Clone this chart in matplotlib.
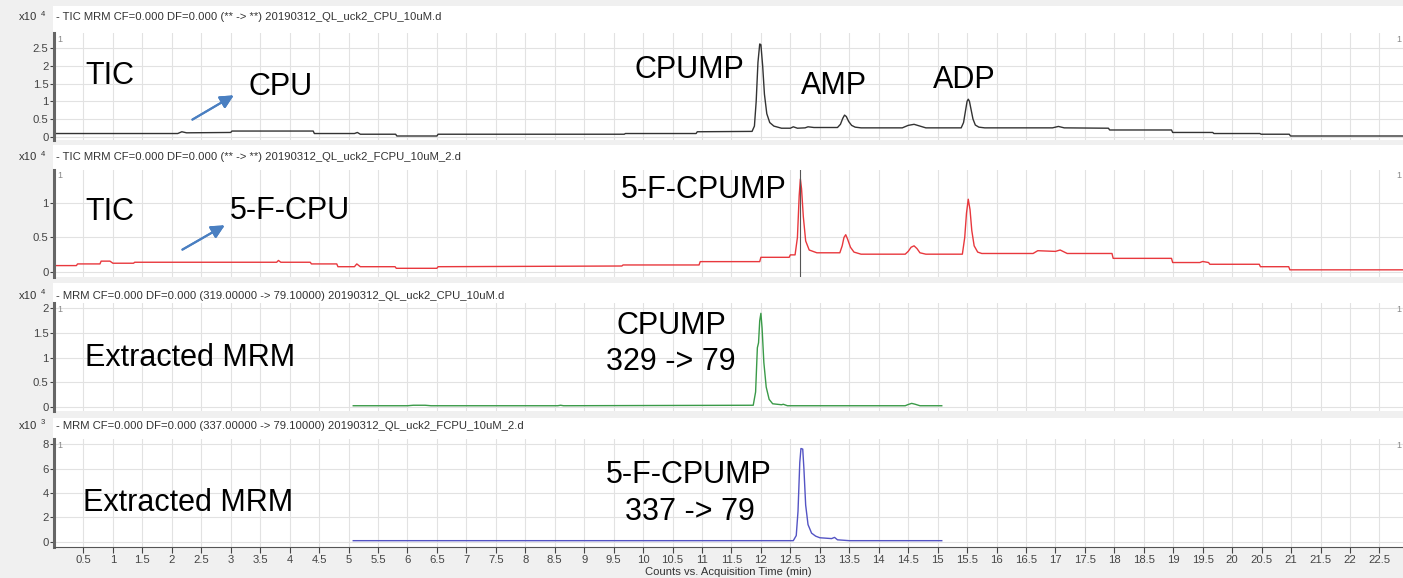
import numpy as np
import matplotlib
matplotlib.use('Agg')
import matplotlib.pyplot as plt
from matplotlib.patches import Rectangle

# ---- data ----
# TIC, CPU sample (x10^4 counts)
tic_cpu_t = [0.0, 2.1, 2.17, 2.25, 3.0, 3.02, 4.4, 4.42, 5.1, 5.15, 5.2, 5.8, 5.82, 6.5, 6.52,
             9.68, 9.7, 10.9, 10.92, 11.85, 11.89, 11.92, 11.95, 11.98, 12.0, 12.03, 12.06,
             12.1, 12.15, 12.22, 12.35,
             12.5, 12.55, 12.62, 12.75, 12.8, 12.9, 13.3, 13.35, 13.39, 13.42, 13.45, 13.49,
             13.54, 13.6, 13.7,
             14.4, 14.5, 14.6, 14.7, 14.8, 15.4, 15.44, 15.47, 15.5, 15.52, 15.54, 15.57,
             15.6, 15.64, 15.7, 15.8,
             16.95, 17.05, 17.15, 17.9, 17.92, 18.97, 18.99, 19.67, 19.69, 20.47, 20.49,
             20.97, 20.99, 22.9]
tic_cpu_y = [0.09, 0.09, 0.14, 0.11, 0.12, 0.16, 0.16, 0.09, 0.09, 0.12, 0.07, 0.07, 0.02, 0.02, 0.07,
             0.07, 0.09, 0.09, 0.14, 0.15, 0.3, 1.0, 2.1, 2.62, 2.6, 2.0, 1.2,
             0.65, 0.4, 0.3, 0.24,
             0.24, 0.28, 0.24, 0.25, 0.28, 0.26, 0.26, 0.35, 0.52, 0.61, 0.57, 0.43,
             0.32, 0.27, 0.25,
             0.25, 0.32, 0.35, 0.3, 0.25, 0.25, 0.4, 0.7, 1.0, 1.06, 1.0, 0.75,
             0.5, 0.33, 0.27, 0.25,
             0.25, 0.29, 0.25, 0.24, 0.19, 0.19, 0.12, 0.12, 0.09, 0.09, 0.07,
             0.07, 0.02, 0.02]

# TIC, 5-F-CPU sample (x10^4 counts)
tic_fcpu_t = [0.0, 0.38, 0.4, 0.78, 0.8, 0.95, 1.0, 1.35, 1.37, 3.78, 3.81, 3.85, 4.35, 4.37,
              4.8, 4.82, 5.1, 5.14, 5.2, 5.79, 5.81, 6.5, 6.52, 9.64, 9.66, 10.95, 10.97,
              11.98, 12.0, 12.48, 12.5, 12.58, 12.62, 12.65, 12.67, 12.69, 12.72, 12.76, 12.82, 12.95,
              13.34, 13.38, 13.41, 13.44, 13.47, 13.52, 13.58, 13.7,
              14.45, 14.5, 14.55, 14.6, 14.65, 14.7, 14.8,
              15.42, 15.46, 15.49, 15.52, 15.55, 15.58, 15.62, 15.68, 15.75,
              16.62, 16.7, 17.0, 17.08, 17.2, 17.96, 17.98,
              18.97, 18.99, 19.45, 19.5, 19.6, 19.62, 20.46, 20.48, 20.96, 20.98, 22.9]
tic_fcpu_y = [0.096, 0.096, 0.12, 0.12, 0.16, 0.16, 0.13, 0.13, 0.144, 0.144, 0.17, 0.144, 0.144, 0.12,
              0.12, 0.08, 0.08, 0.12, 0.08, 0.08, 0.057, 0.057, 0.08, 0.09, 0.105, 0.105, 0.153,
              0.153, 0.215, 0.215, 0.25, 0.25, 0.5, 1.1, 1.34, 1.2, 0.8, 0.45, 0.32, 0.28,
              0.28, 0.38, 0.5, 0.54, 0.48, 0.36, 0.29, 0.26,
              0.26, 0.3, 0.36, 0.38, 0.34, 0.28, 0.26,
              0.26, 0.5, 0.85, 1.05, 0.9, 0.6, 0.38, 0.29, 0.27,
              0.27, 0.31, 0.3, 0.32, 0.27, 0.27, 0.2,
              0.2, 0.14, 0.14, 0.155, 0.14, 0.115, 0.115, 0.08, 0.08, 0.035, 0.035]

# MRM 329 -> 79, CPU sample (x10^4 counts)
mrm_cpu_t = [5.08, 6.0, 6.1, 6.3, 6.4, 8.55, 8.6, 8.65, 11.87, 11.91, 11.94, 11.96, 11.98, 12.0,
             12.02, 12.05, 12.09, 12.14, 12.2, 12.35, 12.38, 12.45,
             14.45, 14.5, 14.56, 14.62, 14.7, 15.07]
mrm_cpu_y = [0.02, 0.02, 0.03, 0.03, 0.02, 0.02, 0.03, 0.02, 0.03, 0.3, 1.2, 1.3, 1.75, 1.9,
             1.6, 0.9, 0.4, 0.15, 0.06, 0.04, 0.05, 0.02,
             0.02, 0.045, 0.068, 0.05, 0.02, 0.02]

# MRM 337 -> 79, 5-F-CPU sample (x10^3 counts)
mrm_fcpu_t = [5.08, 12.55, 12.6, 12.63, 12.66, 12.68, 12.71, 12.73, 12.76, 12.8, 12.86, 12.93,
              13.0, 13.2, 13.25, 13.3, 13.5, 15.07]
mrm_fcpu_y = [0.08, 0.08, 0.5, 2.5, 6.5, 7.65, 7.6, 6.0, 3.0, 1.4, 0.7, 0.45,
              0.32, 0.25, 0.35, 0.15, 0.08, 0.08]

titles = ['- TIC MRM CF=0.000 DF=0.000 (** -> **) 20190312_QL_uck2_CPU_10uM.d',
          '- TIC MRM CF=0.000 DF=0.000 (** -> **) 20190312_QL_uck2_FCPU_10uM_2.d',
          '- MRM CF=0.000 DF=0.000 (319.00000 -> 79.10000) 20190312_QL_uck2_CPU_10uM.d',
          '- MRM CF=0.000 DF=0.000 (337.00000 -> 79.10000) 20190312_QL_uck2_FCPU_10uM_2.d']
exps = ['4', '4', '4', '3']
yticks = [[0, 0.5, 1, 1.5, 2, 2.5], [0, 0.5, 1], [0, 0.5, 1, 1.5, 2], [0, 2, 4, 6, 8]]
ylims = [(-0.093, 2.93), (-0.068, 1.47), (-0.087, 2.11), (-0.44, 8.43)]
xticks = np.arange(0.5, 23, 0.5)

# ---- layout in pixels ----
W, H = 1403, 578
fig = plt.figure(figsize=(W / 100, H / 100), dpi=100, facecolor='#f0f0f0')

def fx(px):
    return px / W

def fy(py):
    return 1 - py / H

# (white block top, axes top, axes bottom, title y)
rows = [(6, 33, 140, 17), (145, 170, 277, 157), (283, 303, 411, 296), (418, 439, 547, 426)]
x0, x1 = 54, 1403

traces = [(tic_cpu_t, tic_cpu_y, '#333333'),
          (tic_fcpu_t, tic_fcpu_y, '#e8383d'),
          (mrm_cpu_t, mrm_cpu_y, '#3a9a48'),
          (mrm_fcpu_t, mrm_fcpu_y, '#5454c4')]

sans = ['Liberation Sans', 'DejaVu Sans']
small = 8.1
axes = []
for i, (wtop, atop, abot, ty) in enumerate(rows):
    fig.patches.append(Rectangle((fx(53), fy(abot)), fx(W - 53), fy(wtop) - fy(abot),
                                 transform=fig.transFigure, facecolor='white',
                                 edgecolor='none', zorder=-5))
    ax = fig.add_axes([fx(x0), fy(abot), fx(x1 - x0), fy(atop) - fy(abot)])
    ax.set_zorder(1)
    t, y, c = traces[i]
    ax.plot(t, y, color=c, lw=1.0)
    ax.set_xlim(0, 22.9)
    ax.set_ylim(*ylims[i])
    ax.set_yticks(yticks[i])
    ax.set_yticklabels(['%g' % v for v in yticks[i]], fontsize=small, color='#333333',
                       family=sans)
    ax.set_xticks(xticks)
    ax.grid(True, color='#e2e2e2', lw=0.8)
    ax.set_axisbelow(True)
    for s in ['top', 'right']:
        ax.spines[s].set_visible(False)
    ax.spines['left'].set_linewidth(2.2)
    ax.spines['left'].set_color('#666666')
    ax.tick_params(axis='y', length=3, width=0.8, pad=1, colors='#444444')
    if i < 3:
        ax.spines['bottom'].set_visible(False)
        ax.tick_params(axis='x', length=0, labelbottom=False)
    else:
        ax.spines['bottom'].set_color('#555555')
        ax.set_xticklabels(['%g' % v for v in xticks], fontsize=small, color='#333333',
                           family=sans)
        ax.tick_params(axis='x', length=4, width=0.8, pad=2, colors='#444444')
        ax.set_xlabel('Counts vs. Acquisition Time (min)', fontsize=small,
                      color='#333333', family=sans, labelpad=1)
    # header strip
    fig.text(fx(19), fy(ty), 'x10', fontsize=small, color='#333333', va='center', family=sans)
    fig.text(fx(41), fy(ty - 3), exps[i], fontsize=5.5, color='#333333', va='center', family=sans)
    fig.text(fx(56), fy(ty), titles[i], fontsize=small, color='#333333', va='center', family=sans)
    fig.text(fx(57), fy(atop + 6), '1', fontsize=6.5, color='#888888', va='center', family=sans)
    fig.text(fx(1396), fy(atop + 6), '1', fontsize=6.5, color='#888888', va='center', family=sans)
    axes.append(ax)

# cursor line on the second trace
axes[1].axvline(12.67, color='#555555', lw=0.8)

# ---- annotations ----
big = dict(fontsize=22, color='black', va='center', family=sans)
fig.text(fx(85), fy(76), 'TIC', **big)
fig.text(fx(248), fy(87), 'CPU', **big)
fig.text(fx(634), fy(70), 'CPUMP', **big)
fig.text(fx(801), fy(86), 'AMP', **big)
fig.text(fx(933), fy(80), 'ADP', **big)
fig.text(fx(85), fy(212), 'TIC', **big)
fig.text(fx(230), fy(211), '5-F-CPU', **big)
fig.text(fx(621), fy(190), '5-F-CPUMP', **big)
fig.text(fx(85), fy(358), 'Extracted MRM', **big)
fig.text(fx(671), fy(326), 'CPUMP', ha='center', **big)
fig.text(fx(671), fy(362), '329 -> 79', ha='center', **big)
fig.text(fx(83), fy(503), 'Extracted MRM', **big)
fig.text(fx(689), fy(475), '5-F-CPUMP', ha='center', **big)
fig.text(fx(690), fy(512), '337 -> 79', ha='center', **big)

arrow = dict(arrowstyle='-|>', color='#4a7fc1', lw=1.5, mutation_scale=20)
fig.add_artist(plt.annotate('', xy=(fx(236), fy(94)), xytext=(fx(190), fy(121)),
                            xycoords='figure fraction', textcoords='figure fraction',
                            arrowprops=arrow))
fig.add_artist(plt.annotate('', xy=(fx(227), fy(224)), xytext=(fx(180), fy(251)),
                            xycoords='figure fraction', textcoords='figure fraction',
                            arrowprops=arrow))

fig.savefig('out.png', dpi=100, facecolor=fig.get_facecolor())
